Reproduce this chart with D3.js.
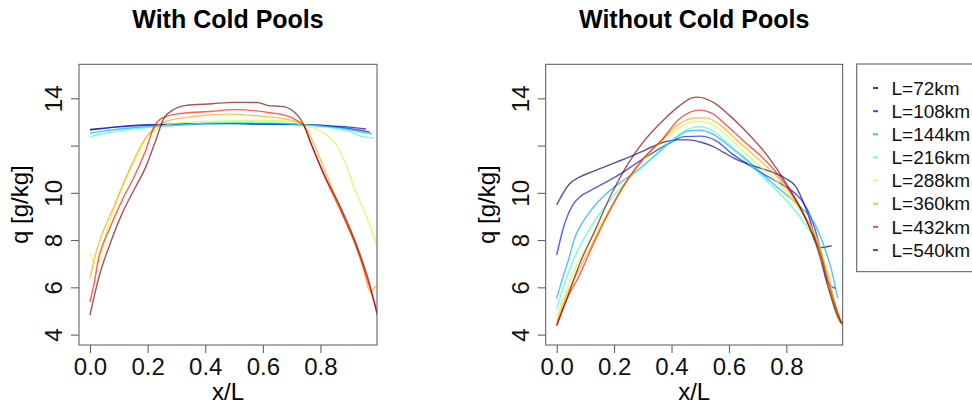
<!DOCTYPE html>
<html>
<head>
<meta charset="utf-8">
<script src="https://cdn.jsdelivr.net/npm/d3@7"></script>
<style>
  body { margin: 0; background: #fff; }
  svg { font-family: "Liberation Sans", Arial, sans-serif; }
</style>
</head>
<body>
<svg id="chart"></svg>
<script>
// legend labels, one per domain length
const labels = ["L=72km", "L=108km", "L=144km", "L=216km", "L=288km", "L=360km", "L=432km", "L=540km"];
const xTicks = [0, 0.2, 0.4, 0.6, 0.8];
const xTickLabels = ["0.0", "0.2", "0.4", "0.6", "0.8"];
const yTicks = [4, 6, 8, 10, 12, 14];
const yTickLabels = ["4", "6", "8", "10", "", "14"];

// With cold pools: [x/L, q]
const cp72 = [[0,12.68],[0.05,12.74],[0.1,12.8],[0.15,12.85],[0.2,12.88],[0.3,12.9],[0.4,12.93],[0.5,12.93],[0.6,12.9],[0.7,12.9],[0.75,12.88],[0.8,12.86],[0.85,12.82],[0.9,12.78],[0.958,12.7]];
const cp108 = [[0,12.66],[0.05,12.73],[0.1,12.79],[0.2,12.86],[0.3,12.9],[0.4,12.94],[0.5,12.95],[0.6,12.92],[0.7,12.9],[0.75,12.88],[0.8,12.85],[0.85,12.8],[0.9,12.72],[0.94,12.65],[0.972,12.57]];
const cp144 = [[0,12.52],[0.05,12.62],[0.1,12.7],[0.2,12.8],[0.3,12.86],[0.4,12.92],[0.5,12.93],[0.6,12.92],[0.7,12.9],[0.75,12.87],[0.8,12.83],[0.85,12.77],[0.9,12.68],[0.94,12.58],[0.979,12.5]];
const cp216 = [[0,12.38],[0.05,12.52],[0.1,12.63],[0.2,12.76],[0.3,12.86],[0.4,12.95],[0.5,12.99],[0.6,12.98],[0.7,12.93],[0.75,12.87],[0.8,12.82],[0.85,12.73],[0.9,12.6],[0.94,12.4],[0.986,12.32]];
const cp288 = [[0,7.44],[0.017,7.01],[0.037,7.3],[0.055,8.2],[0.078,9.14],[0.11,10.2],[0.14,11.0],[0.17,11.68],[0.194,12.3],[0.22,12.62],[0.251,12.81],[0.309,12.96],[0.4,13.03],[0.5,13.06],[0.6,13.07],[0.7,13.02],[0.742,12.86],[0.793,12.67],[0.828,12.39],[0.851,12.1],[0.886,11.26],[0.92,10.12],[0.955,9.14],[0.998,7.7]];
const cp360 = [[0,6.38],[0.02,7.44],[0.043,8.29],[0.078,9.28],[0.112,10.27],[0.147,11.26],[0.182,12.11],[0.217,12.67],[0.263,13.02],[0.368,13.24],[0.483,13.33],[0.596,13.24],[0.689,13.1],[0.742,12.86],[0.781,11.96],[0.828,10.55],[0.886,8.85],[0.944,7.01],[0.973,5.81],[0.99,6.02],[0.998,6.1]];
const cp432 = [[0,5.38],[0.014,6.16],[0.031,7.29],[0.066,8.43],[0.112,9.7],[0.159,10.83],[0.194,11.82],[0.223,12.81],[0.251,13.17],[0.309,13.35],[0.425,13.45],[0.5,13.52],[0.631,13.38],[0.689,13.24],[0.72,13.05],[0.742,12.84],[0.765,12.15],[0.805,10.95],[0.863,9.42],[0.92,7.86],[0.967,6.16],[0.998,4.9]];
const cp540 = [[0,4.82],[0.014,5.6],[0.031,6.44],[0.066,7.72],[0.112,9.14],[0.159,10.27],[0.194,11.11],[0.229,12.25],[0.257,13.17],[0.286,13.49],[0.333,13.7],[0.425,13.77],[0.5,13.83],[0.584,13.82],[0.619,13.69],[0.665,13.66],[0.706,13.45],[0.742,12.88],[0.77,12.0],[0.816,10.69],[0.874,9.28],[0.932,7.58],[0.967,6.3],[0.998,4.8]];

// Without cold pools
const nocp72 = [[0,9.49],[0.042,10.34],[0.083,10.69],[0.125,10.9],[0.167,11.1],[0.208,11.3],[0.25,11.5],[0.292,11.72],[0.333,11.95],[0.375,12.15],[0.417,12.24],[0.458,12.24],[0.5,12.15],[0.542,11.98],[0.583,11.7],[0.625,11.42],[0.667,11.22],[0.708,11.05],[0.75,10.88],[0.792,10.65],[0.833,10.26],[0.875,9.12],[0.917,7.68],[0.958,7.76]];
const nocp108 = [[0,7.37],[0.028,8.71],[0.056,9.49],[0.083,9.85],[0.111,10.05],[0.167,10.42],[0.222,10.8],[0.278,11.26],[0.333,11.68],[0.389,12.08],[0.444,12.38],[0.5,12.4],[0.556,12.2],[0.611,11.65],[0.667,11.2],[0.722,10.78],[0.778,10.4],[0.833,9.95],[0.861,9.55],[0.889,8.85],[0.917,7.7],[0.944,6.2],[0.972,5.95]];
const nocp144 = [[0,5.53],[0.021,6.4],[0.042,7.2],[0.063,8.1],[0.083,8.6],[0.125,9.35],[0.167,9.9],[0.229,10.5],[0.292,11.05],[0.354,11.7],[0.417,12.35],[0.458,12.62],[0.5,12.65],[0.542,12.5],[0.604,11.95],[0.667,11.35],[0.729,10.65],[0.792,10.0],[0.854,9.35],[0.896,8.75],[0.938,7.5],[0.958,6.7],[0.979,5.53]];
const nocp216 = [[0,5.1],[0.028,6.2],[0.056,7.1],[0.111,8.4],[0.167,9.4],[0.222,10.2],[0.278,10.9],[0.333,11.5],[0.389,12.1],[0.444,12.6],[0.472,12.76],[0.5,12.8],[0.528,12.72],[0.583,12.25],[0.639,11.6],[0.694,10.95],[0.75,10.3],[0.806,9.6],[0.861,8.75],[0.917,7.5],[0.944,6.3],[0.972,4.9],[0.986,4.5]];
const nocp288 = [[0,4.75],[0.035,5.9],[0.07,6.95],[0.134,8.3],[0.192,9.45],[0.25,10.6],[0.308,11.5],[0.367,12.2],[0.425,12.75],[0.455,12.95],[0.49,13.02],[0.525,12.98],[0.56,12.75],[0.63,12.0],[0.7,11.2],[0.77,10.45],[0.84,9.4],[0.91,7.95],[0.945,6.6],[0.98,4.7],[0.99,4.45]];
const nocp360 = [[0,4.53],[0.035,5.7],[0.076,6.7],[0.134,8.1],[0.192,9.42],[0.25,10.6],[0.308,11.52],[0.367,12.25],[0.425,12.9],[0.455,13.1],[0.49,13.18],[0.525,13.16],[0.56,12.95],[0.63,12.2],[0.7,11.45],[0.77,10.65],[0.84,9.5],[0.91,7.9],[0.945,6.5],[0.98,4.9],[0.994,4.45]];
const nocp432 = [[0,4.39],[0.035,5.5],[0.076,6.44],[0.134,8.0],[0.192,9.42],[0.25,10.62],[0.308,11.54],[0.367,12.25],[0.425,13.1],[0.472,13.45],[0.5,13.5],[0.538,13.38],[0.596,12.81],[0.655,12.15],[0.713,11.54],[0.794,10.41],[0.864,8.99],[0.922,7.29],[0.957,5.74],[0.992,4.47]];
const nocp540 = [[0,4.39],[0.038,5.6],[0.076,6.87],[0.134,8.43],[0.192,9.98],[0.25,11.26],[0.308,12.25],[0.367,13.02],[0.425,13.66],[0.472,14.02],[0.489,14.05],[0.55,13.8],[0.6,13.3],[0.654,12.67],[0.736,11.54],[0.806,10.27],[0.864,8.99],[0.91,7.58],[0.945,6.02],[0.98,4.75],[0.998,4.39]];

const withCP = [cp72, cp108, cp144, cp216, cp288, cp360, cp432, cp540];
const withoutCP = [nocp72, nocp108, nocp144, nocp216, nocp288, nocp360, nocp432, nocp540];

// jet-like palette, same order as labels
const colors = ["#00007F", "#0012FF", "#00A4FF", "#36FFC9", "#C9FF36", "#FFA400", "#FF1200", "#7F0000"];

const W = 972, H = 407;
const plotTop = 64.3, plotBottom = 345;
const svg = d3.select("#chart").attr("width", W).attr("height", H);

function drawPanel(id, left, right, title, series) {
    const x = d3.scaleLinear().domain([-0.0383, 0.9963]).range([left, right]);
    const y = d3.scaleLinear().domain([3.56, 15.44]).range([plotBottom, plotTop]);
    const g = svg.append("g");

    g.append("clipPath").attr("id", id)
        .append("rect")
        .attr("x", left).attr("y", plotTop)
        .attr("width", right - left).attr("height", plotBottom - plotTop);

    const line = d3.line()
        .x(d => x(d[0]))
        .y(d => y(d[1]))
        .curve(d3.curveMonotoneX);

    g.append("g").attr("clip-path", `url(#${id})`)
        .selectAll("path")
        .data(series)
        .join("path")
        .attr("d", line)
        .attr("fill", "none")
        .attr("stroke", (d, i) => colors[i])
        .attr("stroke-opacity", 0.68)
        .attr("stroke-width", 1.4);

    // box
    g.append("rect")
        .attr("x", left).attr("y", plotTop)
        .attr("width", right - left).attr("height", plotBottom - plotTop)
        .attr("fill", "none")
        .attr("stroke", "#555")
        .attr("stroke-width", 1);

    // x axis (R style: line only between first and last tick)
    const xa = g.append("g")
        .attr("transform", `translate(0,${plotBottom})`)
        .call(d3.axisBottom(x).tickValues(xTicks).tickSize(8).tickFormat((d, i) => xTickLabels[i]));
    xa.select(".domain").remove();
    xa.selectAll("line").attr("stroke", "#555");
    xa.selectAll("text").attr("y", 30).attr("dy", 0)
        .attr("font-size", 24).attr("fill", "#111")
        .attr("font-family", "Liberation Sans, Arial, sans-serif");

    const ya = g.append("g")
        .attr("transform", `translate(${left},0)`)
        .call(d3.axisLeft(y).tickValues(yTicks).tickSize(8).tickFormat((d, i) => yTickLabels[i]));
    ya.select(".domain").remove();
    ya.selectAll("line").attr("stroke", "#555");
    ya.selectAll("text")
        .attr("x", 0).attr("dy", 0)
        .attr("transform", "translate(-17,0) rotate(-90)")
        .attr("text-anchor", "middle")
        .attr("font-size", 24).attr("fill", "#111")
        .attr("font-family", "Liberation Sans, Arial, sans-serif");

    const cx = (left + right) / 2;
    g.append("text")
        .attr("x", cx).attr("y", 28)
        .attr("text-anchor", "middle")
        .attr("font-size", 25).attr("font-weight", "bold")
        .text(title);

    g.append("text")
        .attr("x", cx).attr("y", 400)
        .attr("text-anchor", "middle")
        .attr("font-size", 24)
        .text("x/L");

    g.append("text")
        .attr("transform", `translate(${left - 51},${(plotTop + plotBottom) / 2}) rotate(-90)`)
        .attr("text-anchor", "middle")
        .attr("font-size", 24)
        .text("q [g/kg]");
}

drawPanel("clipL", 79, 377, "With Cold Pools", withCP);
drawPanel("clipR", 545.7, 842.7, "Without Cold Pools", withoutCP);

// legend
const lg = svg.append("g");
lg.append("rect")
    .attr("x", 856.7).attr("y", 64)
    .attr("width", 130).attr("height", 207.7)
    .attr("fill", "none").attr("stroke", "#555");

const entry = lg.selectAll("g.entry")
    .data(labels)
    .join("g")
    .attr("class", "entry")
    .attr("transform", (d, i) => `translate(0,${88 + i * 23.15})`);
entry.append("line")
    .attr("x1", 873).attr("x2", 878)
    .attr("stroke", (d, i) => colors[i])
    .attr("stroke-opacity", 0.75)
    .attr("stroke-width", 2);
entry.append("text")
    .attr("x", 891.5).attr("y", 6.7)
    .attr("font-size", 19)
    .attr("fill", "#111")
    .text(d => d);
</script>
</body>
</html>
